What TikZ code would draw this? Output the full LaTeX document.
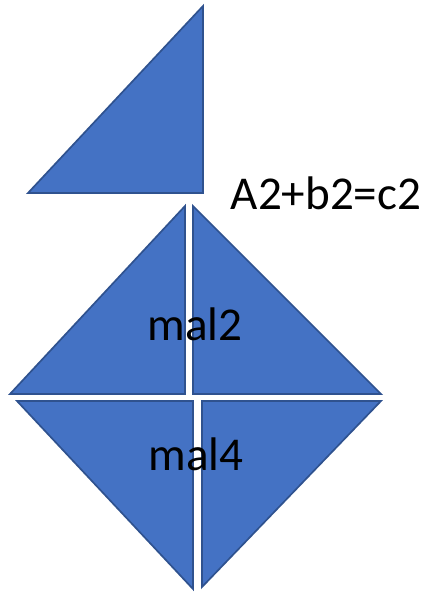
\documentclass[tikz,border=0pt]{standalone}
\usepackage{fontspec}
\setmainfont{Carlito}
\usepackage{tikz}
\definecolor{trifill}{HTML}{4472C4}
\definecolor{triline}{HTML}{2F528F}

\begin{document}
\begin{tikzpicture}[x=0.025cm,y=-0.025cm,
  tri/.style={draw=triline,fill=trifill,line width=1.2pt,line join=miter},
  lbl/.style={font=\fontsize{33.5}{40}\selectfont,text=black,inner sep=0pt,anchor=base}]

\useasboundingbox (0,0) rectangle (431,592);

% ---------------- single triangle on top ------------------------------------
\filldraw[tri] (28,193) -- (203,193) -- (203,6) -- cycle;

% ---------------- upper pair --------------------------------------------------
\filldraw[tri] (10,394) -- (185,394) -- (185,206) -- cycle;
\filldraw[tri] (193,206) -- (193,394) -- (381,394) -- cycle;

% ---------------- lower pair --------------------------------------------------
\filldraw[tri] (17,401) -- (193,401) -- (193,589) -- cycle;
\filldraw[tri] (202,401) -- (381,401) -- (202,587) -- cycle;

% ---------------- texts -------------------------------------------------------
\node[lbl] (pyth) at (326,209) {A2+b2=c2};
\node[lbl] (maltwo) at (195,340) {mal2};
\node[lbl] (malfour) at (196,470) {mal4};

\end{tikzpicture}
\end{document}
